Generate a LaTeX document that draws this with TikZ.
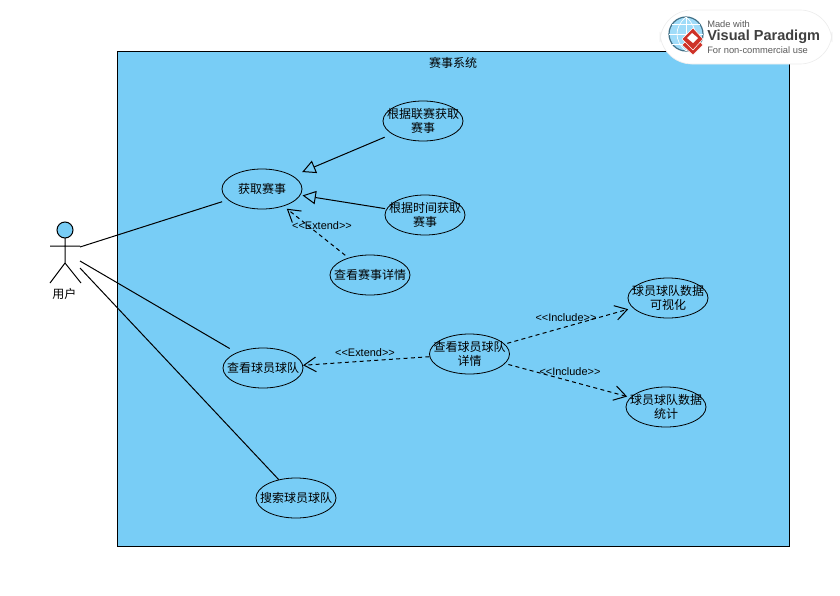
\documentclass[tikz,border=0pt]{standalone}
\usepackage{fontspec}
\setmainfont{Liberation Sans}
\newfontfamily\cjk{Noto Sans CJK SC}
\usetikzlibrary{shapes.geometric,arrows.meta}
\definecolor{sysblue}{RGB}{120,205,246}
\definecolor{vpred}{RGB}{206,50,40}
\definecolor{vpgray}{RGB}{90,90,90}
\tikzset{
  usecase/.style={ellipse,draw,fill=sysblue,line width=0.6pt,minimum width=60pt,minimum height=30pt,inner sep=0pt},
  uctext/.style={font=\cjk\fontsize{9}{10.6}\selectfont,align=center,inner sep=0pt},
  assoc/.style={line width=0.75pt},
  generalize/.style={line width=0.75pt,-{Triangle[open,fill=sysblue,length=10pt,width=10pt]}},
  depend/.style={line width=0.75pt,dash pattern=on 3pt off 2.5pt,-{Straight Barb[length=9pt,width=11pt,line width=0.75pt]}},
  stereo/.style={font=\fontsize{8.2}{9}\selectfont,inner sep=0pt}
}
\begin{document}
\begin{tikzpicture}[x=0.75pt,y=0.75pt,yscale=-1]
\useasboundingbox (0,0) rectangle (840,596);

%System frame
\draw [fill=sysblue,line width=0.75pt] (117,51) rectangle (789,546);
\draw (453,63) node [uctext] (systitle) {赛事系统};

%Logo
\draw [fill=white,draw=black!7,line width=0.5pt,rounded corners=24pt] (660,10) rectangle (832,64);
\draw [fill=sysblue!70,draw=black!45!sysblue,line width=0.9pt] (686,34) circle (17);
\draw [white,line width=0.5pt] (669,34) -- (703,34) (686,17) -- (686,51) (672,24) -- (700,24) (672,44) -- (700,44);
\draw [white,line width=0.5pt] (686,17) .. controls (674,27) and (674,41) .. (686,51);
\draw [white,line width=0.5pt] (686,17) .. controls (698,27) and (698,41) .. (686,51);
\draw [fill=vpred,draw=white,line width=0.4pt] (693,34) -- (703,45) -- (693,55) -- (682,45) -- cycle;
\draw [fill=vpred,draw=white,line width=0.4pt] (693,28) -- (703,39) -- (693,50) -- (682,39) -- cycle;
\draw [fill=white,draw=none] (692,33) -- (698,38) -- (693,43) -- (687,38) -- cycle;
\draw (707,24) node [anchor=west,inner sep=0pt,text=vpgray,font=\fontsize{7}{8}\selectfont] (vpmade) {Made with};
\draw (707,37) node [anchor=west,inner sep=0pt,text=black!75,font=\bfseries\fontsize{10.9}{12}\selectfont] (vpname) {Visual Paradigm};
\draw (707,50) node [anchor=west,inner sep=0pt,text=vpgray,font=\fontsize{7}{8}\selectfont] (vpuse) {For non-commercial use};

%Actor
\draw [fill=sysblue,line width=0.75pt] (65,230) circle (8);
\draw [line width=0.75pt] (65,238) -- (65,263) (50,246) -- (80,246) (50,283) -- (65,263) -- (81,283);
\draw (64.5,294) node [uctext] (user) {用户};
\coordinate (userA) at (80,247);
\coordinate (userB) at (80,261);
\coordinate (userC) at (80,268);

% Use cases
\draw (262,189) node [usecase,label={[uctext]center:获取赛事}] (getmatch) {};
\draw (423,121) node [usecase,label={[uctext]center:根据联赛获取\\赛事}] (byleague) {};
\draw (425,215) node [usecase,label={[uctext]center:根据时间获取\\赛事}] (bytime) {};
\draw (370,275) node [usecase,label={[uctext]center:查看赛事详情}] (matchinfo) {};
\draw (263,368) node [usecase,label={[uctext]center:查看球员球队}] (viewteam) {};
\draw (469.5,354) node [usecase,label={[uctext]center:查看球员球队\\详情}] (teaminfo) {};
\draw (668,298) node [usecase,label={[uctext]center:球员球队数据\\可视化}] (teamchart) {};
\draw (666,407) node [usecase,label={[uctext]center:球员球队数据\\统计}] (teamstat) {};
\draw (296,498) node [usecase,label={[uctext]center:搜索球员球队}] (searchteam) {};

%Associations
\draw [assoc,shorten >=4.5pt] (userA) -- (getmatch);
\draw [assoc,shorten >=6pt] (userB) -- (viewteam);
\draw [assoc] (userC) -- (searchteam);

%Generalizations
\draw [generalize,shorten <=6pt,shorten >=7.5pt] (byleague) -- (getmatch);
\draw [generalize,shorten <=1pt,shorten >=1.5pt] (bytime) -- (getmatch);

%Dependencies
\draw [depend,shorten <=3pt,shorten >=3pt] (matchinfo) -- (getmatch);
\draw [depend] (teaminfo) -- (viewteam);
\draw [depend,shorten <=2pt,shorten >=3.5pt] (teaminfo) -- (teamchart);
\draw [depend,shorten <=2.5pt,shorten >=2.5pt] (teaminfo) -- (teamstat);

% Text Node
\draw (322,226) node [stereo] (extendA) {<{}<Extend>{}>};
\draw (365,353) node [stereo] (extendB) {<{}<Extend>{}>};
\draw (566,318) node [stereo] (includeA) {<{}<Include>{}>};
\draw (570,372) node [stereo] (includeB) {<{}<Include>{}>};
\end{tikzpicture}
\end{document}
